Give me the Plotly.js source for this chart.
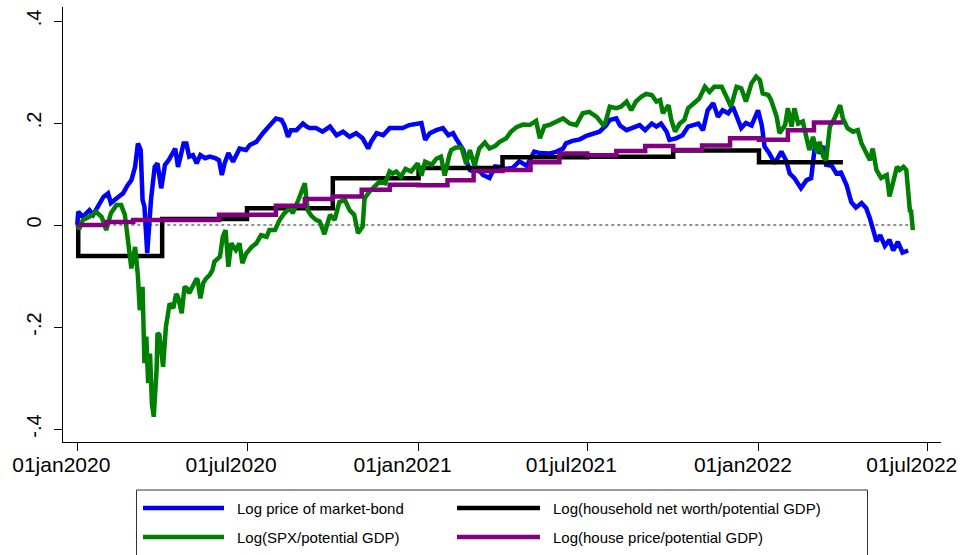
<!DOCTYPE html>
<html>
<head>
<meta charset="utf-8">
<script src="https://cdn.plot.ly/plotly-3.0.1.min.js"></script>
<style>
  html, body { margin: 0; padding: 0; background: #ffffff; }
  #chart { width: 963px; height: 555px; }
</style>
</head>
<body>
<div id="chart"></div>
<script>
// Log price of market-bond (daily, sampled)
const bondDates = ["2020-01-01","2020-01-02","2020-01-07","2020-01-14","2020-01-18","2020-01-29","2020-02-03","2020-02-06","2020-02-14","2020-02-19","2020-02-24","2020-02-28","2020-03-03","2020-03-06","2020-03-09","2020-03-11","2020-03-13","2020-03-16","2020-03-20","2020-03-24","2020-03-27","2020-03-31","2020-04-04","2020-04-08","2020-04-15","2020-04-18","2020-04-24","2020-04-27","2020-04-30","2020-05-04","2020-05-08","2020-05-12","2020-05-17","2020-05-22","2020-05-28","2020-06-01","2020-06-04","2020-06-07","2020-06-11","2020-06-16","2020-06-23","2020-06-30","2020-07-04","2020-07-11","2020-07-18","2020-07-25","2020-08-01","2020-08-07","2020-08-10","2020-08-14","2020-08-17","2020-08-23","2020-08-30","2020-09-03","2020-09-06","2020-09-13","2020-09-20","2020-09-28","2020-10-05","2020-10-12","2020-10-19","2020-10-26","2020-11-02","2020-11-08","2020-11-11","2020-11-17","2020-11-24","2020-12-01","2020-12-08","2020-12-15","2020-12-22","2020-12-30","2021-01-04","2021-01-08","2021-01-13","2021-01-20","2021-01-27","2021-02-02","2021-02-07","2021-02-10","2021-02-14","2021-02-18","2021-02-21","2021-02-25","2021-03-01","2021-03-05","2021-03-11","2021-03-18","2021-03-24","2021-03-29","2021-04-05","2021-04-12","2021-04-19","2021-04-27","2021-05-05","2021-05-11","2021-05-21","2021-05-29","2021-06-05","2021-06-08","2021-06-15","2021-06-23","2021-06-30","2021-07-07","2021-07-14","2021-07-21","2021-07-25","2021-08-01","2021-08-05","2021-08-12","2021-08-19","2021-08-26","2021-09-01","2021-09-08","2021-09-13","2021-09-18","2021-09-24","2021-09-27","2021-10-04","2021-10-11","2021-10-17","2021-10-22","2021-10-28","2021-11-02","2021-11-07","2021-11-13","2021-11-18","2021-11-23","2021-11-29","2021-12-04","2021-12-08","2021-12-13","2021-12-18","2021-12-24","2021-12-28","2021-12-31","2022-01-04","2022-01-07","2022-01-12","2022-01-18","2022-01-25","2022-01-30","2022-02-03","2022-02-08","2022-02-15","2022-02-21","2022-02-26","2022-03-02","2022-03-04","2022-03-07","2022-03-11","2022-03-14","2022-03-20","2022-03-25","2022-03-30","2022-04-05","2022-04-10","2022-04-15","2022-04-21","2022-04-26","2022-04-30","2022-05-03","2022-05-07","2022-05-11","2022-05-16","2022-05-21","2022-05-25","2022-05-30","2022-06-04","2022-06-10"];
const bondValues = [0.000,0.026,0.016,0.029,0.020,0.055,0.062,0.043,0.055,0.062,0.078,0.088,0.114,0.160,0.147,0.049,0.036,-0.055,0.049,0.114,0.121,0.072,0.118,0.127,0.150,0.114,0.160,0.160,0.134,0.137,0.121,0.137,0.131,0.134,0.131,0.127,0.098,0.121,0.141,0.124,0.150,0.147,0.157,0.163,0.180,0.193,0.209,0.206,0.196,0.173,0.186,0.186,0.199,0.193,0.190,0.190,0.183,0.193,0.176,0.183,0.173,0.180,0.170,0.150,0.163,0.180,0.176,0.190,0.190,0.190,0.196,0.199,0.200,0.167,0.180,0.186,0.190,0.176,0.180,0.170,0.160,0.147,0.127,0.108,0.105,0.111,0.098,0.092,0.115,0.114,0.110,0.112,0.125,0.116,0.144,0.141,0.140,0.144,0.150,0.160,0.165,0.168,0.175,0.178,0.183,0.195,0.206,0.209,0.195,0.186,0.190,0.196,0.186,0.199,0.193,0.199,0.183,0.167,0.170,0.176,0.193,0.196,0.199,0.186,0.225,0.239,0.212,0.225,0.219,0.232,0.212,0.190,0.200,0.195,0.212,0.225,0.196,0.154,0.141,0.121,0.144,0.127,0.101,0.092,0.072,0.088,0.092,0.155,0.160,0.140,0.155,0.118,0.116,0.101,0.103,0.078,0.045,0.034,0.043,0.033,0.013,-0.008,-0.032,-0.020,-0.041,-0.029,-0.050,-0.033,-0.054,-0.050];

// Log(household net worth/potential GDP), quarterly
const worthDates = ["2020-01-01","2020-01-02","2020-04-01","2020-07-01","2020-10-01","2021-01-01","2021-04-01","2021-07-01","2021-10-01","2022-01-01","2022-04-01"];
const worthValues = [0.000,-0.061,0.012,0.033,0.0915,0.112,0.133,0.134,0.146,0.123,0.123];

// Log(SPX/potential GDP) (daily, sampled)
const spxDates = ["2020-01-01","2020-01-03","2020-01-07","2020-01-14","2020-01-21","2020-01-27","2020-02-01","2020-02-06","2020-02-12","2020-02-17","2020-02-21","2020-02-24","2020-02-28","2020-03-03","2020-03-06","2020-03-08","2020-03-11","2020-03-13","2020-03-15","2020-03-17","2020-03-19","2020-03-21","2020-03-23","2020-03-26","2020-03-27","2020-03-29","2020-04-02","2020-04-05","2020-04-09","2020-04-13","2020-04-16","2020-04-18","2020-04-22","2020-04-25","2020-04-28","2020-04-30","2020-05-04","2020-05-08","2020-05-09","2020-05-12","2020-05-15","2020-05-18","2020-05-22","2020-05-25","2020-05-27","2020-06-02","2020-06-05","2020-06-08","2020-06-11","2020-06-14","2020-06-19","2020-06-23","2020-06-26","2020-06-30","2020-07-06","2020-07-11","2020-07-16","2020-07-22","2020-07-25","2020-07-31","2020-08-05","2020-08-10","2020-08-16","2020-08-19","2020-08-25","2020-08-30","2020-09-01","2020-09-04","2020-09-08","2020-09-13","2020-09-17","2020-09-22","2020-09-28","2020-10-03","2020-10-08","2020-10-14","2020-10-19","2020-10-24","2020-10-28","2020-11-02","2020-11-04","2020-11-09","2020-11-15","2020-11-20","2020-11-26","2020-12-01","2020-12-04","2020-12-08","2020-12-13","2020-12-18","2020-12-24","2020-12-31","2021-01-04","2021-01-08","2021-01-15","2021-01-20","2021-01-25","2021-01-29","2021-02-03","2021-02-05","2021-02-10","2021-02-16","2021-02-21","2021-02-25","2021-03-02","2021-03-07","2021-03-13","2021-03-18","2021-03-24","2021-03-29","2021-04-05","2021-04-10","2021-04-16","2021-04-23","2021-04-30","2021-05-07","2021-05-11","2021-05-16","2021-05-21","2021-05-29","2021-06-05","2021-06-12","2021-06-19","2021-06-26","2021-07-03","2021-07-11","2021-07-18","2021-07-20","2021-07-25","2021-08-01","2021-08-06","2021-08-12","2021-08-17","2021-08-22","2021-08-28","2021-09-02","2021-09-08","2021-09-13","2021-09-17","2021-09-20","2021-09-26","2021-09-29","2021-10-03","2021-10-08","2021-10-13","2021-10-17","2021-10-24","2021-10-29","2021-11-04","2021-11-09","2021-11-14","2021-11-22","2021-11-27","2021-12-02","2021-12-08","2021-12-13","2021-12-18","2021-12-24","2021-12-29","2022-01-02","2022-01-05","2022-01-11","2022-01-14","2022-01-20","2022-01-23","2022-01-29","2022-02-01","2022-02-05","2022-02-08","2022-02-12","2022-02-17","2022-02-21","2022-02-24","2022-02-28","2022-03-04","2022-03-07","2022-03-11","2022-03-14","2022-03-18","2022-03-23","2022-03-29","2022-04-01","2022-04-06","2022-04-12","2022-04-17","2022-04-21","2022-04-25","2022-04-30","2022-05-03","2022-05-07","2022-05-12","2022-05-18","2022-05-21","2022-05-25","2022-05-29","2022-06-01","2022-06-05","2022-06-08","2022-06-12","2022-06-13","2022-06-15"];
const spxValues = [0.000,-0.008,0.010,0.016,0.026,0.016,-0.010,0.023,0.039,0.039,0.020,-0.029,-0.085,-0.043,-0.100,-0.167,-0.121,-0.271,-0.219,-0.310,-0.252,-0.350,-0.376,-0.284,-0.212,-0.215,-0.278,-0.200,-0.154,-0.163,-0.135,-0.141,-0.173,-0.121,-0.125,-0.134,-0.121,-0.105,-0.108,-0.144,-0.114,-0.105,-0.098,-0.088,-0.072,-0.062,-0.023,-0.010,-0.082,-0.036,-0.049,-0.036,-0.075,-0.056,-0.043,-0.036,-0.020,-0.023,-0.010,-0.010,0.010,0.023,0.033,0.023,0.049,0.069,0.082,0.029,0.018,0.010,0.007,-0.018,0.020,0.010,0.045,0.049,0.029,0.020,-0.016,-0.003,0.052,0.065,0.075,0.085,0.082,0.105,0.101,0.105,0.095,0.110,0.105,0.121,0.097,0.124,0.118,0.130,0.134,0.097,0.137,0.147,0.152,0.152,0.120,0.147,0.116,0.150,0.162,0.150,0.155,0.163,0.170,0.183,0.192,0.197,0.196,0.204,0.170,0.194,0.196,0.203,0.209,0.199,0.196,0.219,0.222,0.212,0.196,0.199,0.232,0.229,0.232,0.242,0.225,0.242,0.252,0.257,0.255,0.242,0.245,0.219,0.235,0.206,0.183,0.199,0.206,0.229,0.239,0.248,0.271,0.261,0.271,0.271,0.252,0.232,0.271,0.268,0.242,0.278,0.291,0.284,0.258,0.255,0.245,0.212,0.180,0.196,0.229,0.193,0.229,0.199,0.203,0.167,0.147,0.173,0.141,0.163,0.134,0.127,0.193,0.209,0.235,0.209,0.190,0.183,0.186,0.160,0.147,0.127,0.150,0.108,0.092,0.098,0.056,0.088,0.114,0.108,0.114,0.108,0.025,0.030,-0.010];

// Log(house price/potential GDP), monthly
const houseDates = ["2020-01-01","2020-02-01","2020-03-01","2020-04-01","2020-05-01","2020-06-01","2020-07-01","2020-08-01","2020-09-01","2020-10-01","2020-11-01","2020-12-01","2021-01-01","2021-02-01","2021-03-01","2021-04-01","2021-05-01","2021-06-01","2021-07-01","2021-08-01","2021-09-01","2021-10-01","2021-11-01","2021-12-01","2022-01-01","2022-02-01","2022-03-01","2022-04-01"];
const houseValues = [0.000,0.006,0.010,0.010,0.010,0.020,0.020,0.038,0.051,0.056,0.069,0.079,0.078,0.088,0.106,0.108,0.123,0.140,0.137,0.145,0.155,0.147,0.156,0.170,0.167,0.186,0.201,0.201];

// Zero reference line over the sample period
const zeroDates = ["2020-01-01","2022-06-17"];
const zeroValues = [0, 0];

// Axis ticks
const xTickVals = ["2020-01-01","2020-07-01","2021-01-01","2021-07-01","2022-01-01","2022-07-01"];
const xTickText = ["01jan2020","01jul2020","01jan2021","01jul2021","01jan2022","01jul2022"];
const yTickVals = [-0.4,-0.2,0,0.2,0.4];
const yTickText = ["-.4","-.2","0",".2",".4"];

// Legend entries (two columns, row-wise)
const legendNames = ["Log price of market-bond","Log(household net worth/potential GDP)","Log(SPX/potential GDP)","Log(house price/potential GDP)"];
const legendColors = ["#0000ff","#000000","#008000","#800080"];

// ---- figure geometry (pixels) ----
const W = 963, H = 555;
const M = {l: 63, r: 22, t: 7, b: 113};
const plotW = W - M.l - M.r, plotH = H - M.t - M.b;
const px2x = px => (px - M.l) / plotW;
const py2y = py => (H - M.b - py) / plotH;

const traces = [
  {x: zeroDates, y: zeroValues, mode: 'lines', line: {color: '#222222', width: 1, dash: 'dot'}, hoverinfo: 'skip'},
  {x: bondDates, y: bondValues, mode: 'lines', line: {color: legendColors[0], width: 4.5}},
  {x: worthDates, y: worthValues, mode: 'lines', line: {color: legendColors[1], width: 4.5, shape: 'hv'}},
  {x: spxDates, y: spxValues, mode: 'lines', line: {color: legendColors[2], width: 4.5}},
  {x: houseDates, y: houseValues, mode: 'lines', line: {color: legendColors[3], width: 4.5, shape: 'hv'}}
];

// Boxed legend below the plot, drawn with shapes and text
const keyCols = [{x0: 143, x1: 224, tx: 235}, {x0: 457, x1: 540, tx: 551}];
const keyRows = [508, 537];
const shapes = [{
  type: 'rect', xref: 'paper', yref: 'paper',
  x0: px2x(136.5), x1: px2x(867.5), y0: py2y(490), y1: py2y(575),
  line: {color: '#333333', width: 1}, fillcolor: 'rgba(0,0,0,0)'
}];
const annotations = [];
legendNames.forEach((name, i) => {
  const c = keyCols[i % 2], r = keyRows[Math.floor(i / 2)];
  shapes.push({type: 'line', xref: 'paper', yref: 'paper',
    x0: px2x(c.x0), x1: px2x(c.x1), y0: py2y(r), y1: py2y(r),
    line: {color: legendColors[i], width: 4.5}});
  annotations.push({xref: 'paper', yref: 'paper', x: px2x(c.tx), y: py2y(r),
    xanchor: 'left', yanchor: 'middle', showarrow: false, text: name,
    font: {family: 'Liberation Sans, Arial, sans-serif', size: 15, color: '#000000'}});
});

const layout = {
  width: W, height: H,
  margin: M,
  paper_bgcolor: '#ffffff', plot_bgcolor: '#ffffff',
  showlegend: false,
  font: {family: 'Liberation Sans, Arial, sans-serif', color: '#000000'},
  xaxis: {
    type: 'date',
    range: ['2019-12-16 16:00', '2022-07-15 05:00'],
    tickmode: 'array', tickvals: xTickVals, ticktext: xTickText,
    ticks: 'outside', ticklen: 8, tickwidth: 1, tickcolor: '#000000',
    ticklabelshift: -16, ticklabelstandoff: -4, ticklabeloverflow: 'allow',
    showline: true, linecolor: '#000000', linewidth: 1,
    showgrid: false, zeroline: false,
    tickfont: {size: 21, color: '#000000'}
  },
  yaxis: {
    range: [-0.4255, 0.4275],
    tickmode: 'array', tickvals: yTickVals, ticktext: yTickText,
    tickangle: -90, ticklabelstandoff: 5,
    ticks: 'outside', ticklen: 8, tickwidth: 1, tickcolor: '#000000',
    showline: true, linecolor: '#000000', linewidth: 1,
    showgrid: false, zeroline: false,
    tickfont: {size: 20, color: '#000000'}
  },
  shapes: shapes,
  annotations: annotations
};

Plotly.newPlot('chart', traces, layout, {staticPlot: true, displayModeBar: false});
</script>
</body>
</html>
